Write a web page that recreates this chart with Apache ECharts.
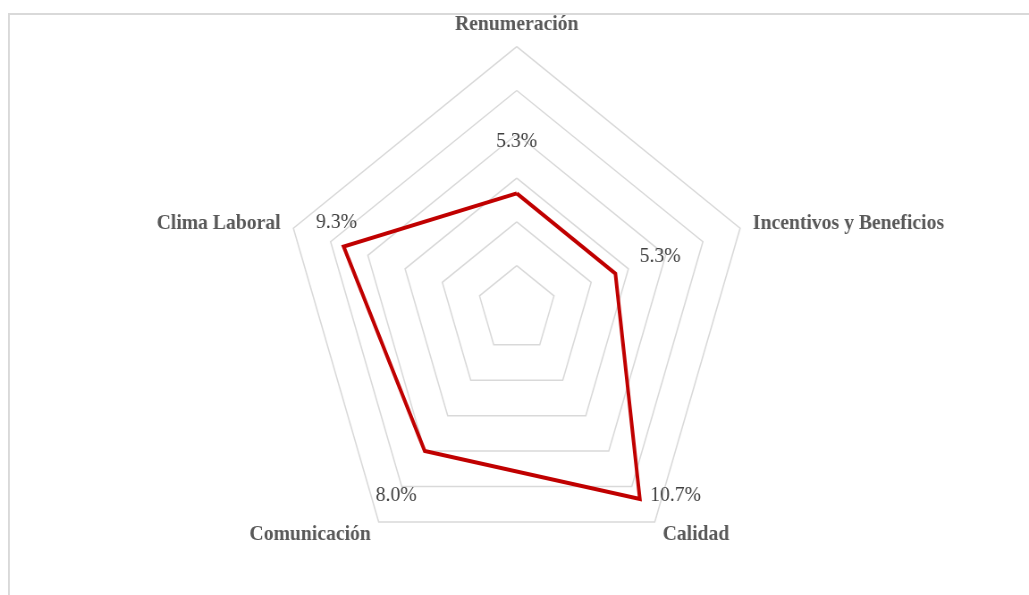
<!DOCTYPE html>
<html>
<head>
<meta charset="utf-8">
<script src="https://cdn.jsdelivr.net/npm/echarts@6/dist/echarts.min.js"></script>
<style>
  html, body { margin: 0; padding: 0; background: #fff; overflow: hidden; }
  /* the plot is laid out wide and narrowed horizontally so the pentagon reads slightly compressed */
  #chart { width: 1151px; height: 595px; transform: scaleX(0.894); transform-origin: 0 0; }
</style>
</head>
<body>
<div id="chart"></div>
<script>
// Indicators, listed counter-clockwise from the top
const indicators = ['Renumeración', 'Clima Laboral', 'Comunicación', 'Calidad', 'Incentivos y Beneficios'];
// Score for each indicator (%)
const values = [5.3, 9.3, 8.0, 10.7, 5.3];
// Scale of the radial axis
const axisMin = 0;
const axisMax = 12;
const ringCount = 6;

// Where each value label sits relative to its vertex
const labelOffsets = [[0, -52], [-8, -24], [-32, 44], [40, -4], [50, -17]];

const fmt = v => (typeof v === 'number' && !isNaN(v)) ? v.toFixed(1) + '%' : '';

// Main outline
const seriesData = [{
  value: values,
  symbol: 'none',
  lineStyle: { color: '#C00000', width: 4, join: 'miter' },
  label: { show: false }
}];
// One label-only item per indicator, carrying just that indicator's value
values.forEach((v, i) => {
  seriesData.push({
    value: values.map((w, j) => (j === i ? w : '-')),
    symbol: 'circle',
    symbolSize: 1,
    itemStyle: { color: 'rgba(0,0,0,0)' },
    lineStyle: { opacity: 0, width: 0 },
    label: {
      show: true,
      position: 'inside',
      offset: labelOffsets[i],
      formatter: p => fmt(p.value),
      fontFamily: '"Liberation Serif", "Times New Roman", serif',
      fontSize: 22,
      color: '#404040'
    }
  });
});

const nameFont = {
  color: '#595959',
  fontFamily: '"Liberation Serif", "Times New Roman", serif',
  fontWeight: 'bold',
  fontSize: 22
};

const chart = echarts.init(document.getElementById('chart'), null, { renderer: 'canvas' });
chart.setOption({
  animation: false,
  backgroundColor: '#ffffff',
  graphic: [{
    type: 'rect',
    shape: { x: 10, y: 14, width: 3000, height: 2000 },
    style: { fill: 'none', stroke: '#d9d9d9', lineWidth: 2 },
    silent: true,
    z: -10
  }],
  radar: {
    center: [578, 309.4],
    radius: 262.7,
    startAngle: 90,
    shape: 'polygon',
    splitNumber: ringCount,
    indicator: indicators.map(name => ({ name, min: axisMin, max: axisMax })),
    axisName: Object.assign({}, nameFont, {
      // the top name sits a little closer to its vertex
      formatter: (name) => name === indicators[0] ? '{top|' + name + '}' : name,
      rich: { top: Object.assign({}, nameFont, { lineHeight: 14 }) }
    }),
    nameGap: 15,
    axisLine: { show: false },
    axisTick: { show: false },
    axisLabel: { show: false },
    splitArea: { show: false },
    splitLine: { lineStyle: { color: '#d9d9d9', width: 1.5 } }
  },
  series: [{
    type: 'radar',
    silent: true,
    data: seriesData
  }]
});
</script>
</body>
</html>
